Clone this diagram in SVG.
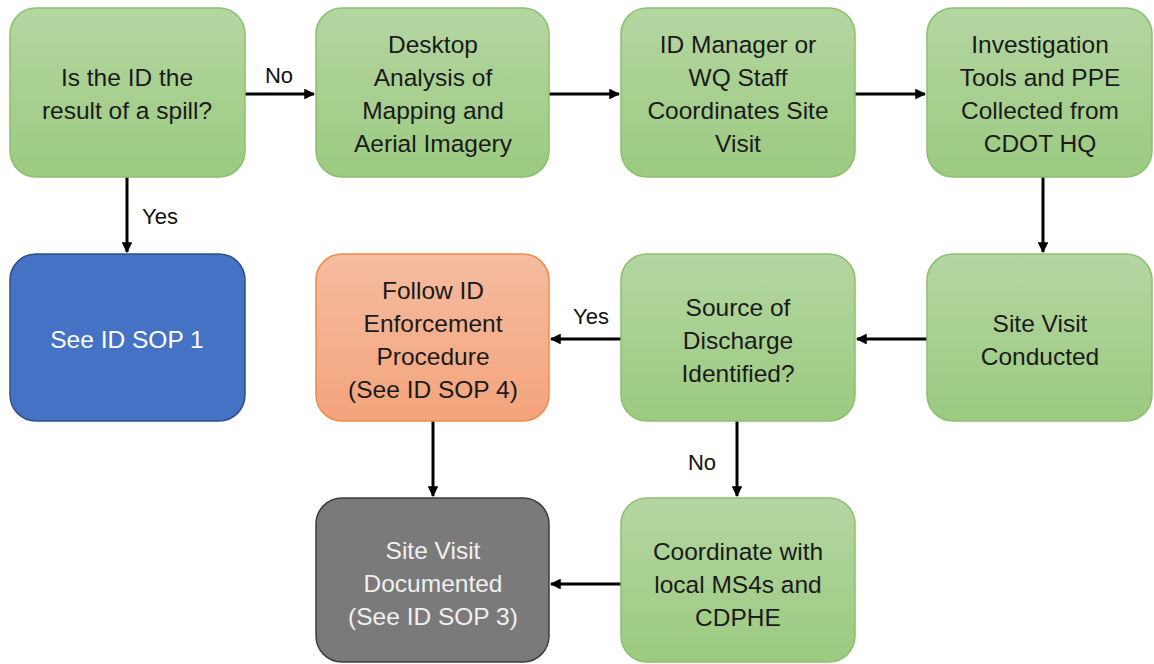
<svg xmlns="http://www.w3.org/2000/svg" width="1154" height="664" viewBox="0 0 1154 664">
<style>
.box{stroke-width:1.5}
.g{fill:url(#gg);stroke:#8cc06e}
.t{font-family:"Liberation Sans",Arial,sans-serif;font-size:24.5px;fill:#1a1a1a;text-anchor:middle}
.w{fill:#ffffff}
.lg{fill:#f0f0f0}
.lbl{font-family:"Liberation Sans",Arial,sans-serif;font-size:22px;fill:#111;text-anchor:middle}
.c{stroke:#000;stroke-width:3;fill:none;marker-end:url(#ah)}
</style>
<defs>
<linearGradient id="gg" x1="0" y1="0" x2="0" y2="1"><stop offset="0" stop-color="#b4d6a2"/><stop offset="1" stop-color="#9cca80"/></linearGradient>
<linearGradient id="og" x1="0" y1="0" x2="0" y2="1"><stop offset="0" stop-color="#f5bca0"/><stop offset="1" stop-color="#f4a47c"/></linearGradient>
<marker id="ah" viewBox="0 0 10 10" refX="9" refY="5" markerWidth="3.6" markerHeight="3.6" orient="auto" markerUnits="strokeWidth"><path d="M0,0 L10,5 L0,10 z" fill="#000"/></marker>
</defs>
<g id="connectors">
<path class="c" d="M245,94 H314"/>
<path class="c" d="M549,94 H619"/>
<path class="c" d="M855,94 H925"/>
<path class="c" d="M1043,177 V252"/>
<path class="c" d="M927,339 H857"/>
<path class="c" d="M621,339 H551"/>
<path class="c" d="M127,177 V252"/>
<path class="c" d="M433,421 V496"/>
<path class="c" d="M737,421 V496"/>
<path class="c" d="M621,584 H551"/>
<text class="lbl" x="279" y="83">No</text>
<text class="lbl" x="160" y="224">Yes</text>
<text class="lbl" x="591" y="324">Yes</text>
<text class="lbl" x="702" y="470">No</text>
</g>
<g id="n1"><rect class="box g" x="10" y="8" width="235" height="169" rx="26"/>
<text class="t" x="127" y="86">Is the ID the</text><text class="t" x="127" y="119">result of a spill?</text></g>
<g id="n2"><rect class="box g" x="316" y="8" width="233" height="169" rx="26"/>
<text class="t" x="433" y="53">Desktop</text><text class="t" x="433" y="86">Analysis of</text><text class="t" x="433" y="119">Mapping and</text><text class="t" x="433" y="152">Aerial Imagery</text></g>
<g id="n3"><rect class="box g" x="621" y="8" width="234" height="169" rx="26"/>
<text class="t" x="738" y="53">ID Manager or</text><text class="t" x="738" y="86">WQ Staff</text><text class="t" x="738" y="119">Coordinates Site</text><text class="t" x="738" y="152">Visit</text></g>
<g id="n4"><rect class="box g" x="927" y="8" width="225" height="169" rx="26"/>
<text class="t" x="1040" y="53">Investigation</text><text class="t" x="1040" y="86">Tools and PPE</text><text class="t" x="1040" y="119">Collected from</text><text class="t" x="1040" y="152">CDOT HQ</text></g>
<g id="n5"><rect class="box" x="10" y="254" width="235" height="167" rx="26" fill="#4472c4" stroke="#2f4f86"/>
<text class="t w" x="127" y="348">See ID SOP 1</text></g>
<g id="n6"><rect class="box" x="316" y="254" width="233" height="167" rx="26" fill="url(#og)" stroke="#f08a4b"/>
<text class="t" x="433" y="299">Follow ID</text><text class="t" x="433" y="332">Enforcement</text><text class="t" x="433" y="365">Procedure</text><text class="t" x="433" y="398">(See ID SOP 4)</text></g>
<g id="n7"><rect class="box g" x="621" y="254" width="234" height="167" rx="26"/>
<text class="t" x="738" y="316">Source of</text><text class="t" x="738" y="349">Discharge</text><text class="t" x="738" y="382">Identified?</text></g>
<g id="n8"><rect class="box g" x="927" y="254" width="225" height="167" rx="26"/>
<text class="t" x="1040" y="332">Site Visit</text><text class="t" x="1040" y="365">Conducted</text></g>
<g id="n9"><rect class="box" x="316" y="498" width="233" height="164" rx="26" fill="#7a7a7a" stroke="#3d3d3d"/>
<text class="t lg" x="433" y="559">Site Visit</text><text class="t lg" x="433" y="592">Documented</text><text class="t lg" x="433" y="625">(See ID SOP 3)</text></g>
<g id="n10"><rect class="box g" x="621" y="498" width="234" height="164" rx="26"/>
<text class="t" x="738" y="560">Coordinate with</text><text class="t" x="738" y="593">local MS4s and</text><text class="t" x="738" y="626">CDPHE</text></g>
</svg>
